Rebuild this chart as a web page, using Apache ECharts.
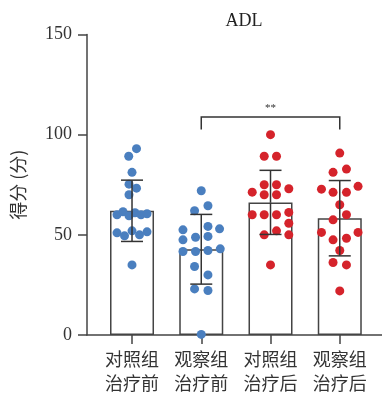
<!DOCTYPE html>
<html><head><meta charset="utf-8">
<script src="https://cdn.jsdelivr.net/npm/echarts@6/dist/echarts.min.js"></script>
<style>html,body{margin:0;padding:0;background:#fff}#c{width:382px;height:399px}</style>
</head><body><div id="c"></div>
<script>
const categories = ['对照组\n治疗前', '观察组\n治疗前', '对照组\n治疗后', '观察组\n治疗后'];
const yTicks = [0, 50, 100, 150];
const means = [62, 42.8, 66.2, 58.3];
const sds = [15.3, 17.4, 16, 18.8];
const g1 = [93, 89.2, 81.2, 75.3, 73.3, 70, 60, 61.5, 59.5, 61, 60, 60.5, 51, 49.5, 52, 50, 51.5, 35];
const g2 = [72, 64.5, 62, 52.5, 54.2, 53, 47.5, 48.8, 49.2, 41.7, 41.7, 42.2, 43, 34.2, 30, 23, 22.2, 0.3];
const g3 = [100, 89.2, 89.2, 75, 75, 71.3, 70, 70, 73, 60, 60, 60, 61.2, 55.8, 50, 52, 50, 35];
const g4 = [90.8, 81.2, 82.8, 72.8, 71.2, 71.2, 74.2, 65, 60, 57.5, 51.2, 51.2, 47.5, 48.3, 42.2, 36.2, 35, 22];
const sigPair = [1, 3];
const sigLabel = '**';
const sigLevel = 108.8;
// horizontal jitter (layout only, pixels)
const j1 = [4.5, -3.3, 0, -3, 4.5, -3, -15, -9, -3, 3, 9, 15, -15, -7.5, 0, 7.5, 15, 0];
const j2 = [0, 6.7, -6.7, -18.3, 6.7, 18.3, -18.3, -5.7, 6.7, -18.3, -5.7, 6.7, 19, -6.7, 6.7, -6.7, 6.7, 0];
const j3 = [0, -6.3, 6, -6.3, 6, -18.3, -6.3, 6, 18.3, -18.3, -6.3, 6, 18.3, 18.3, -6.3, 6, 18.3, 0];
const j4 = [0, -6.7, 6.7, -18.3, -6.7, 6.7, 18.3, 0, 6.7, -6.7, -18.3, 18.3, -6.7, 6.7, 0, -6.7, 6.7, 0];

const PX = 69.25;
const groups = [g1, g2, g3, g4];
const jit = [j1, j2, j3, j4];
const colors = ['#4a7fbf', '#4a7fbf', '#d5232b', '#d5232b'];
const axisColor = '#444';

const scatterSeries = groups.map((g, i) => ({
  type: 'scatter', symbolSize: 9, z: 3,
  itemStyle: { color: colors[i], opacity: 1 },
  data: g.map((v, k) => [i + jit[i][k] / PX, v])
}));

const chart = echarts.init(document.getElementById('c'), null, { renderer: 'canvas' });
chart.setOption({
  animation: false,
  grid: { left: 87, right: 0, top: 34.5, bottom: 64 },
  graphic: [{ type: 'text', x: 244, y: 21, style: { text: 'ADL', font: '18px "Liberation Serif"', fill: '#222', textAlign: 'center', textVerticalAlign: 'middle' } }],
  xAxis: {
    type: 'value', min: -0.65, max: 3.61,
    splitLine: { show: false },
    axisLine: { show: true, onZero: false, lineStyle: { color: axisColor, width: 1.5 } },
    axisTick: { show: true, customValues: [0, 1, 2, 3], length: 9, lineStyle: { color: axisColor, width: 1.5 } },
    axisLabel: { customValues: [0, 1, 2, 3], formatter: v => categories[Math.round(v)], fontFamily: '"Noto Sans CJK SC"', fontSize: 18, lineHeight: 24, color: '#333', margin: 12 }
  },
  yAxis: {
    type: 'value', min: yTicks[0], max: yTicks[yTicks.length - 1], interval: 50,
    name: '得分 (分)', nameLocation: 'middle', nameGap: 60,
    nameTextStyle: { fontFamily: '"Noto Sans CJK SC"', fontSize: 18, color: '#333' },
    splitLine: { show: false },
    axisLine: { show: true, onZero: false, lineStyle: { color: axisColor, width: 1.5 } },
    axisTick: { show: true, length: 9, lineStyle: { color: axisColor, width: 1.5 } },
    axisLabel: { fontFamily: '"Liberation Serif"', fontSize: 18, color: '#333', margin: 15 }
  },
  series: [
    {
      type: 'bar', barWidth: 44, z: 1,
      itemStyle: { color: '#fff', borderColor: axisColor, borderWidth: 1.5 },
      data: means.map((m, i) => [i, m])
    },
    ...scatterSeries,
    {
      type: 'custom', z: 5,
      data: means.map((m, i) => [i, m - sds[i], m + sds[i]]),
      renderItem: (params, api) => {
        const lo = api.coord([api.value(0), api.value(1)]);
        const hi = api.coord([api.value(0), api.value(2)]);
        const mid = api.coord([api.value(0), means[params.dataIndex]]);
        const hw = 11;
        const st = { stroke: '#333', lineWidth: 1.5 };
        return { type: 'group', children: [
          { type: 'line', shape: { x1: hi[0], y1: hi[1], x2: mid[0], y2: mid[1] }, style: st },
          { type: 'line', shape: { x1: lo[0], y1: lo[1], x2: mid[0], y2: mid[1] }, style: st },
          { type: 'line', shape: { x1: hi[0] - hw, y1: hi[1], x2: hi[0] + hw, y2: hi[1] }, style: st },
          { type: 'line', shape: { x1: lo[0] - hw, y1: lo[1], x2: lo[0] + hw, y2: lo[1] }, style: st }
        ]};
      }
    },
    {
      type: 'custom', z: 5,
      data: [[sigPair[0], sigPair[1], sigLevel]],
      renderItem: (params, api) => {
        const a = api.coord([api.value(0), api.value(2)]);
        const b = api.coord([api.value(1), api.value(2)]);
        const st = { stroke: '#333', lineWidth: 1.5, fill: null };
        return { type: 'group', children: [
          { type: 'polyline', shape: { points: [[a[0], a[1] + 12.5], [a[0], a[1]], [b[0], b[1]], [b[0], b[1] + 12.5]] }, style: st },
          { type: 'text', style: { text: sigLabel, x: (a[0] + b[0]) / 2, y: a[1] - 9, textAlign: 'center', textVerticalAlign: 'middle', font: '11px "Liberation Serif"', fill: '#333' } }
        ]};
      }
    }
  ]
});
</script></body></html>
